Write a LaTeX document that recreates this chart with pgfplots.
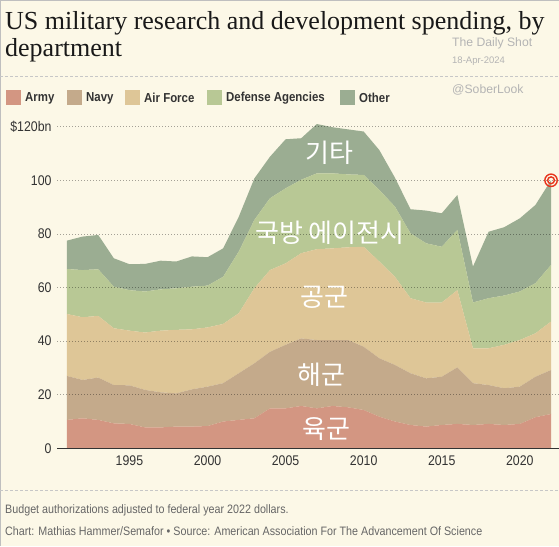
\documentclass[border=0pt]{standalone}
\usepackage{fontspec}
\usepackage{pgfplots}
\usepackage{pgfplotstable}
\pgfplotsset{compat=1.18}

\setmainfont{Liberation Serif}
\newfontfamily\cond[FakeStretch=0.88]{Liberation Sans}
\newfontfamily\plain{Liberation Sans}
\newfontfamily\kr{Noto Sans CJK KR}

\definecolor{bgcream}{HTML}{FCF8E7}
\definecolor{army}{HTML}{D39682}
\definecolor{navy}{HTML}{C4AA8B}
\definecolor{airforce}{HTML}{DEC697}
\definecolor{agencies}{HTML}{B8C895}
\definecolor{other}{HTML}{9BAD92}
\definecolor{ringred}{HTML}{E8341C}
\definecolor{inkgray}{HTML}{333333}
\definecolor{footgray}{HTML}{666666}
\definecolor{wmgray}{HTML}{B4B4B4}

% R&D authorizations by department, $bn (FY2022 dollars)
\pgfplotstableread{
year army navy airforce agencies other
1991 10.6 16.4 23.1 16.8 10.6
1992 11.2 14.3 23.4 17.6 12.5
1993 10.6 15.8 23.0 17.4 12.8
1994  9.3 14.3 21.2 15.5 10.6
1995  9.1 14.4 20.4 15.1  9.7
1996  7.8 14.0 21.4 15.3 10.3
1997  7.8 13.1 23.0 15.4 10.7
1998  8.1 12.4 23.7 15.5 10.0
1999  8.1 13.9 22.4 15.9 11.3
2000  8.3 14.7 22.1 15.6 10.6
2001 10.0 14.3 22.1 17.6 10.6
2002 10.6 17.4 22.4 23.0 13.0
2003 11.2 20.5 28.0 25.5 15.5
2004 14.9 21.1 30.5 26.8 15.5
2005 14.9 23.7 30.4 28.0 18.3
2006 15.8 25.2 31.8 27.4 15.5
2007 14.9 25.5 33.9 28.3 18.4
2008 15.8 24.6 34.2 28.0 17.2
2009 15.3 25.1 34.6 27.2 16.8
2010 14.3 23.6 37.3 26.8 16.2
2011 11.8 21.8 36.1 26.7 14.9
2012 10.0 21.1 32.9 26.2 10.8
2013  8.7 19.3 28.0 24.2  9.0
2014  8.1 18.0 28.3 22.1 12.2
2015  8.7 18.0 27.7 20.8 12.5
2016  9.1 21.1 28.8 22.5 13.0
2017  8.7 15.6 13.0 17.1 13.4
2018  9.1 14.5 13.7 18.7 24.8
2019  8.7 13.7 16.2 18.4 25.5
2020  9.1 13.9 17.4 18.1 27.3
2021 11.6 15.1 16.2 18.7 29.2
2022 12.8 16.4 18.1 21.1 31.6
}\rdtable

% highlighted end point: two concentric rings
\pgfdeclareplotmark{dblring}{%
  \pgfpathcircle{\pgfpoint{0pt}{0pt}}{6.2pt}\pgfusepathqstroke
  \pgfpathcircle{\pgfpoint{0pt}{0pt}}{3.4pt}\pgfusepathqstroke}

\begin{document}
\begin{tikzpicture}[x=1pt,y=1pt]
\path[use as bounding box] (0,0) rectangle (559,546);
\fill[bgcream] (0,0) rectangle (559,546);
\draw[black!25, line width=0.8pt] (0.4,0) -- (0.4,545.6) -- (559,545.6);

% title
\node[anchor=base west, inner sep=0, text=black!90, font=\fontsize{26}{26}\selectfont] at (5,516) {US military research and development spending, by};
\node[anchor=base west, inner sep=0, text=black!90, font=\fontsize{26}{26}\selectfont] at (5,489) {department};

% watermark
\node[anchor=west, inner sep=0, text=wmgray, font=\plain\fontsize{12.2}{12}\selectfont] at (452,503) {The Daily Shot};
\node[anchor=west, inner sep=0, text=wmgray, font=\plain\fontsize{9.5}{10}\selectfont] at (452,485) {18-Apr-2024};
\node[anchor=west, inner sep=0, text=wmgray, font=\plain\fontsize{12.2}{12}\selectfont] at (452,456) {@SoberLook};

% separators
\draw[black!22, dash pattern=on 3pt off 2pt, line width=0.6pt] (0,470) -- (559,470);
\draw[black!22, dash pattern=on 3pt off 2pt, line width=0.6pt] (0,56) -- (559,56);

% legend
\foreach \c/\lab/\x in {army/Army/6, navy/Navy/67, airforce/Air Force/125, agencies/Defense Agencies/207, other/Other/340}{
  \fill[\c] (\x,441) rectangle ++(14.5,14.5);
  \node[anchor=west, inner sep=0, text=inkgray, font=\cond\bfseries\fontsize{13}{13}\selectfont] at (\x+19,448) {\lab};
}

\begin{axis}[
  at={(57pt,97.7pt)}, anchor=south west,
  scale only axis, width=502pt, height=321.6pt,
  xmin=1990.36, xmax=2022.51, ymin=0, ymax=120,
  stack plots=y,
  axis x line*=bottom, axis y line*=left,
  x axis line style={-, draw=inkgray, line width=0.9pt},
  y axis line style={draw=none},
  major tick length=0pt,
  xtick={1995,2000,...,2020},
  ytick={0,20,...,120},
  yticklabels={0,20,40,60,80,100,\$120bn},
  ymajorgrids,
  grid style={draw=black, opacity=0.35, dash pattern=on 1.2pt off 1.8pt, line width=0.7pt},
  axis on top,
  clip=false,
  /pgf/number format/1000 sep={},
  /pgf/number format/assume math mode=true,
  tick label style={font=\cond\fontsize{14}{14}\selectfont, text=inkgray},
  yticklabel style={xshift=-2pt},
  xticklabel style={yshift=-4pt},
]
\addplot[fill=army, draw=none] table[x=year, y=army] {\rdtable} \closedcycle;
\addplot[fill=navy, draw=none] table[x=year, y=navy] {\rdtable} \closedcycle;
\addplot[fill=airforce, draw=none] table[x=year, y=airforce] {\rdtable} \closedcycle;
\addplot[fill=agencies, draw=none] table[x=year, y=agencies] {\rdtable} \closedcycle;
\addplot[fill=other, draw=none, mark=dblring, mark indices={32},
  mark options={draw=ringred, fill=none, line width=1.4pt}] table[x=year, y=other] {\rdtable} \closedcycle;
\end{axis}

% area labels
\begin{scope}[every node/.style={text=white, inner sep=0, font=\kr\fontsize{26}{26}\selectfont}]
\node at (329,393) {기타};
\node at (330,313) {국방 에이전시};
\node at (324,249) {공군};
\node at (321,171) {해군};
\node at (326,117) {육군};
\end{scope}

% footer
\node[anchor=west, inner sep=0, text=footgray, font=\cond\fontsize{12.2}{12}\selectfont] at (5,36) {Budget authorizations adjusted to federal year 2022 dollars.};
\node[anchor=west, inner sep=0, text=footgray, font=\cond\fontsize{12.2}{12}\selectfont] at (5,15) {Chart: Mathias Hammer/Semafor \textbullet{} Source: American Association For The Advancement Of Science};
\end{tikzpicture}
\end{document}
